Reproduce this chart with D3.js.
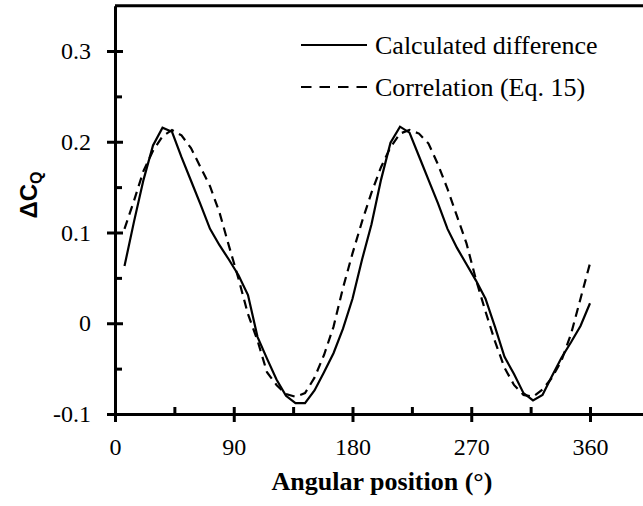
<!DOCTYPE html>
<html>
<head>
<meta charset="utf-8">
<script src="https://cdn.jsdelivr.net/npm/d3@7"></script>
<style>
  html, body { margin: 0; padding: 0; background: #fff; }
  svg { display: block; }
</style>
</head>
<body>
<svg id="chart" width="643" height="506"></svg>
<script>
// ---- data ----
const angles = [7.2,14.4,21.6,28.8,36,43.2,50.4,57.6,64.8,72,
  79.2,86.4,93.6,100.8,108,115.2,122.4,129.6,136.8,144,
  151.2,158.4,165.6,172.8,180,187.2,194.4,201.6,208.8,216,
  223.2,230.4,237.6,244.8,252,259.2,266.4,273.6,280.8,288,
  295.2,302.4,309.6,316.8,324,331.2,338.4,345.6,352.8,360];
const calculated = [0.063,0.112,0.158,0.196,0.2155,0.211,0.183,0.157,0.131,0.104,
  0.086,0.070,0.053,0.031,-0.015,-0.039,-0.062,-0.080,-0.088,-0.088,
  -0.074,-0.054,-0.033,-0.006,0.027,0.070,0.109,0.158,0.199,0.2166,
  0.210,0.184,0.158,0.132,0.104,0.083,0.065,0.047,0.027,-0.004,
  -0.037,-0.056,-0.077,-0.085,-0.079,-0.058,-0.038,-0.021,-0.003,0.022];
const correlation = [0.104,0.135,0.168,0.190,0.206,0.213,0.207,0.193,0.172,0.151,
  0.122,0.085,0.049,0.010,-0.019,-0.054,-0.068,-0.078,-0.081,-0.077,
  -0.060,-0.035,-0.004,0.039,0.077,0.112,0.144,0.172,0.194,0.209,
  0.213,0.209,0.198,0.175,0.148,0.118,0.088,0.048,0.013,-0.020,
  -0.049,-0.068,-0.079,-0.081,-0.073,-0.060,-0.041,-0.012,0.027,0.066];
const xTicks = [0, 90, 180, 270, 360];
const xMinorTicks = [45, 135, 225, 315];
const yTicks = [-0.1, 0, 0.1, 0.2, 0.3];
const yTickLabels = ["-0.1", "0", "0.1", "0.2", "0.3"];
const yMinorTicks = [-0.05, 0.05, 0.15, 0.25];
const seriesNames = ["Calculated difference", "Correlation (Eq. 15)"];

// ---- layout ----
const svg = d3.select("#chart");
const serif = "'Liberation Serif', 'Times New Roman', Times, serif";
const left = 115, bottom = 414;
const pxPerDeg = 475 / 360;
const pxPerUnit = 907.5;
const x = d3.scaleLinear().domain([0, 405]).range([left, left + 405 * pxPerDeg]);
const y = d3.scaleLinear().domain([-0.1, 0.35]).range([bottom, bottom - 0.45 * pxPerUnit]);

// top border
svg.append("line")
  .attr("x1", x(0)).attr("x2", x(405))
  .attr("y1", y(0.35)).attr("y2", y(0.35))
  .attr("stroke", "#000").attr("stroke-width", 3);

// y axis
const yAxis = svg.append("g").attr("transform", `translate(${left},0)`)
  .call(d3.axisLeft(y).tickValues(yTicks).tickSize(8).tickSizeOuter(0).tickPadding(16)
    .tickFormat((d, i) => yTickLabels[i]));
yAxis.selectAll(".tick line").attr("x1", 8).attr("x2", -8).attr("stroke-width", 3);
const yMinor = svg.append("g").attr("transform", `translate(${left},0)`)
  .call(d3.axisLeft(y).tickValues(yMinorTicks).tickSize(-7).tickSizeOuter(0).tickFormat(""));
yMinor.select(".domain").remove();
yMinor.selectAll(".tick line").attr("stroke-width", 3);

// x axis
const xAxis = svg.append("g").attr("transform", `translate(0,${bottom})`)
  .call(d3.axisBottom(x).tickValues(xTicks).tickSize(8).tickSizeOuter(0).tickPadding(16)
    .tickFormat(d3.format("d")));
xAxis.selectAll(".tick line").attr("y1", -7).attr("y2", 8).attr("stroke-width", 3);
const xMinor = svg.append("g").attr("transform", `translate(0,${bottom})`)
  .call(d3.axisBottom(x).tickValues(xMinorTicks).tickSize(-7).tickSizeOuter(0).tickFormat(""));
xMinor.select(".domain").remove();
xMinor.selectAll(".tick line").attr("stroke-width", 3);

[yAxis, xAxis].forEach(g => {
  g.select(".domain").attr("stroke-width", 3);
  g.selectAll(".tick text").attr("font-family", serif).attr("font-size", 24).attr("fill", "#000");
});

// lines
const line = d3.line().x((d, i) => x(angles[i])).y(d => y(d));
svg.append("path").datum(correlation)
  .attr("d", line).attr("fill", "none").attr("stroke", "#000")
  .attr("stroke-width", 2.2).attr("stroke-dasharray", "9,6");
svg.append("path").datum(calculated)
  .attr("d", line).attr("fill", "none").attr("stroke", "#000")
  .attr("stroke-width", 2.2);

// legend
const legend = svg.append("g");
const legendRows = [{y: 45, dash: null}, {y: 87, dash: "10.5,8"}];
legendRows.forEach((r, i) => {
  legend.append("line").attr("x1", 301).attr("x2", 367).attr("y1", r.y).attr("y2", r.y)
    .attr("stroke", "#000").attr("stroke-width", 2.2)
    .attr("stroke-dasharray", r.dash);
  legend.append("text").attr("x", 375).attr("y", r.y + 9)
    .attr("font-family", serif).attr("font-size", 26).text(seriesNames[i]);
});

// axis titles
svg.append("text").attr("x", 382).attr("y", 490).attr("text-anchor", "middle")
  .attr("font-family", serif).attr("font-size", 26).attr("font-weight", "bold")
  .text("Angular position (°)");

const yt = svg.append("text")
  .attr("transform", "translate(37,195) rotate(-90)")
  .attr("text-anchor", "middle")
  .attr("font-family", "'Liberation Sans', Arial, sans-serif")
  .attr("font-weight", "bold").attr("font-size", 24);
yt.append("tspan").text("ΔC");
yt.append("tspan").attr("font-size", 16).attr("dy", 5).text("Q");
</script>
</body>
</html>
